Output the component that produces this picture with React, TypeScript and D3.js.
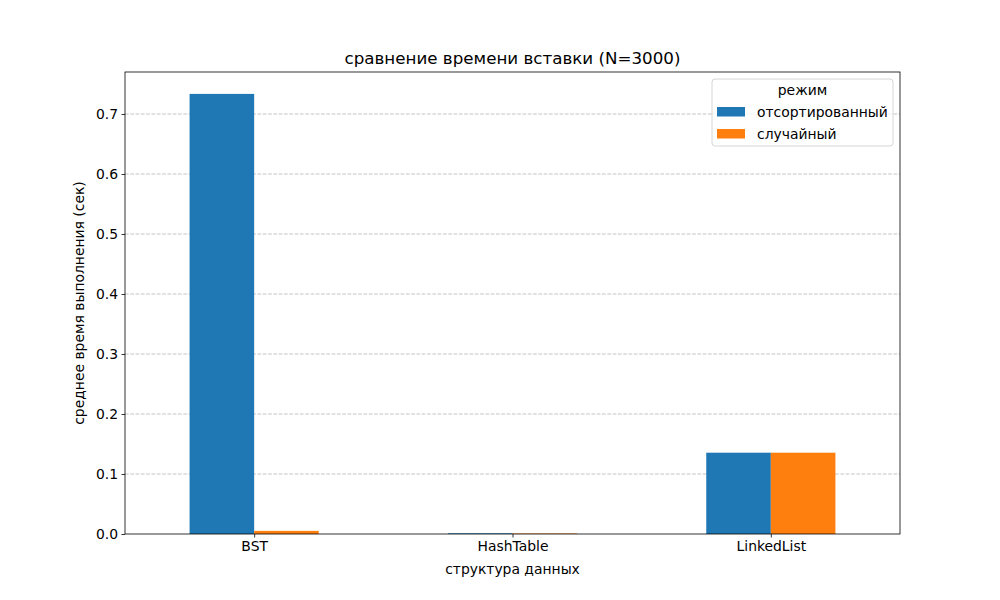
import { useEffect, useRef } from "react"
import * as d3 from "d3"

const categories = ["BST", "HashTable", "LinkedList"]
const seriesNames = ["отсортированный", "случайный"]
const sortedValues = [0.7335, 0.0012, 0.1355]
const randomValues = [0.0052, 0.0009, 0.1355]
const yTicks = [0, 0.1, 0.2, 0.3, 0.4, 0.5, 0.6, 0.7]
const colors = ["#1f77b4", "#ff7f0e"]

export default function App() {
  const svgRef = useRef<SVGSVGElement>(null)

  useEffect(() => {
    if (!svgRef.current) return
    const svg = d3.select(svgRef.current)
    svg.selectAll("*").remove()

    const margin = { top: 72, right: 100, bottom: 66, left: 125 }
    const width = 1000 - margin.left - margin.right
    const height = 600 - margin.top - margin.bottom
    const font = "DejaVu Sans, sans-serif"
    const fs = "13.9px"

    const g = svg.append("g").attr("transform", `translate(${margin.left},${margin.top})`)

    const x = d3.scaleLinear().domain([-0.5, categories.length - 0.5]).range([0, width])
    const y = d3.scaleLinear().domain([0, 0.77]).range([height, 0])
    const barW = x(0.25) - x(0)

    // * Grid lines
    g.selectAll(".grid")
      .data(yTicks.filter((t) => t > 0))
      .enter()
      .append("line")
      .attr("x1", 0)
      .attr("x2", width)
      .attr("y1", (d) => y(d))
      .attr("y2", (d) => y(d))
      .attr("stroke", "#b0b0b0")
      .attr("stroke-opacity", 0.75)
      .attr("stroke-dasharray", "3.7,1.6")
      .attr("stroke-width", 1)

    // * Bars
    const series = [sortedValues, randomValues]
    series.forEach((vals, s) => {
      g.selectAll(`.bar-${s}`)
        .data(vals)
        .enter()
        .append("rect")
        .attr("x", (_, i) => x(i) - barW + s * barW)
        .attr("y", (d) => y(d))
        .attr("width", barW)
        .attr("height", (d) => y(0) - y(d))
        .attr("fill", colors[s])
    })

    // * Axes
    const yAxis = d3.axisLeft(y).tickValues(yTicks).tickFormat(d3.format(".1f")).tickSize(3.5).tickPadding(3.5)
    const xAxis = d3
      .axisBottom(x)
      .tickValues(categories.map((_, i) => i))
      .tickFormat((d) => categories[Number(d)])
      .tickSize(3.5)
      .tickPadding(3.5)

    const ya = g.append("g").call(yAxis)
    const xa = g.append("g").attr("transform", `translate(0,${height})`).call(xAxis)
    ;[ya, xa].forEach((a) => {
      a.select(".domain").remove()
      a.selectAll("line").attr("stroke", "#000").attr("stroke-width", 0.8)
      a.selectAll("text").attr("font-family", font).attr("font-size", fs).attr("fill", "#000")
    })

    // * Frame
    g.append("rect")
      .attr("width", width)
      .attr("height", height)
      .attr("fill", "none")
      .attr("stroke", "#000")
      .attr("stroke-width", 0.8)

    // * Title and labels
    svg
      .append("text")
      .attr("x", margin.left + width / 2)
      .attr("y", margin.top - 8)
      .attr("text-anchor", "middle")
      .attr("font-family", font)
      .attr("font-size", "16.7px")
      .text("сравнение времени вставки (N=3000)")

    svg
      .append("text")
      .attr("x", margin.left + width / 2)
      .attr("y", 574)
      .attr("text-anchor", "middle")
      .attr("font-family", font)
      .attr("font-size", fs)
      .text("структура данных")

    svg
      .append("text")
      .attr("transform", `translate(84,${margin.top + height / 2}) rotate(-90)`)
      .attr("text-anchor", "middle")
      .attr("font-family", font)
      .attr("font-size", fs)
      .text("среднее время выполнения (сек)")

    // * Legend
    const lg = svg.append("g").attr("transform", "translate(712,79)")
    lg.append("rect")
      .attr("width", 181)
      .attr("height", 67)
      .attr("rx", 3)
      .attr("fill", "#fff")
      .attr("fill-opacity", 0.8)
      .attr("stroke", "#ccc")
      .attr("stroke-width", 0.8)
    lg.append("text")
      .attr("x", 90.5)
      .attr("y", 16)
      .attr("text-anchor", "middle")
      .attr("font-family", font)
      .attr("font-size", fs)
      .text("режим")
    seriesNames.forEach((name, i) => {
      lg.append("rect")
        .attr("x", 5)
        .attr("y", 28 + i * 22)
        .attr("width", 28)
        .attr("height", 9.5)
        .attr("fill", colors[i])
      lg.append("text")
        .attr("x", 45)
        .attr("y", 37.5 + i * 22)
        .attr("font-family", font)
        .attr("font-size", fs)
        .text(name)
    })
  }, [])

  return (
    <div style={{ width: 1000, height: 600, margin: -8 }}>
      <svg ref={svgRef} width={1000} height={600} style={{ display: "block", background: "#fff" }}></svg>
    </div>
  )
}
